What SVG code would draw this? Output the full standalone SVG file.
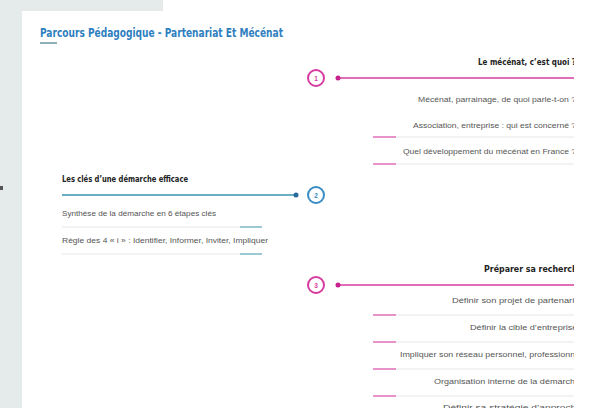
<svg xmlns="http://www.w3.org/2000/svg" width="605" height="408" viewBox="0 0 605 408">
<defs>
<clipPath id="clip"><rect x="22" y="0" width="552" height="408"/></clipPath>
<style>
.t{font-family:"DejaVu Sans Condensed","Liberation Sans",sans-serif;font-weight:bold;font-size:9px;fill:#222}
.i{font-family:"Liberation Sans",Arial,sans-serif;font-size:7px;fill:#555}
.n{font-family:"Liberation Sans",Arial,sans-serif;font-size:6.5px;font-weight:bold;text-anchor:middle}
.pk{stroke:#d63ca0;fill:none}
.bl{stroke:#3a8cc4;fill:none}
.gr{stroke:#e6e6e6;stroke-width:1}
.pks{stroke:#e070b8;stroke-width:1.5}
.bls{stroke:#7ab8c8;stroke-width:1.5}
</style>
</defs>
<rect width="605" height="408" fill="#ffffff"/>
<rect x="0" y="0" width="163" height="11" fill="#e5eaea"/>
<rect x="0" y="0" width="22" height="408" fill="#e5eaea"/>
<rect x="0" y="186" width="3" height="4" fill="#555"/>
<g id="title">
<text x="40" y="37" font-family="DejaVu Sans Condensed,Liberation Sans,sans-serif" font-weight="bold" font-size="11.5" fill="#2f7fc0" textLength="243" lengthAdjust="spacingAndGlyphs">Parcours Pédagogique - Partenariat Et Mécénat</text>
<rect x="40" y="42" width="17" height="2" fill="#8fb0bb"/>
</g>
<g clip-path="url(#clip)">
<g id="connectors">
<line x1="338" y1="78" x2="580" y2="78" stroke="#d63ca0" stroke-width="1.5"/>
<line x1="62" y1="195" x2="296" y2="195" stroke="#6aaec4" stroke-width="2"/>
<line x1="338" y1="285" x2="580" y2="285" stroke="#d63ca0" stroke-width="1.5"/>
</g>
<g id="node1">
<circle class="pk" cx="316" cy="78" r="8" stroke-width="2"/>
<text class="n" x="316" y="80.5" fill="#d63ca0">1</text>
<circle cx="338" cy="78" r="2.5" fill="#c8208e"/>
<text class="t" x="576" y="65" text-anchor="end" textLength="98" lengthAdjust="spacingAndGlyphs">Le mécénat, c’est quoi ?</text>
<text class="i" x="576" y="102" text-anchor="end" textLength="158" lengthAdjust="spacingAndGlyphs">Mécénat, parrainage, de quoi parle-t-on ?</text>
<text class="i" x="576" y="128" text-anchor="end" textLength="163" lengthAdjust="spacingAndGlyphs">Association, entreprise : qui est concerné ?</text>
<line class="gr" x1="396" y1="137" x2="580" y2="137"/>
<line class="pks" x1="373" y1="137" x2="396" y2="137"/>
<text class="i" x="576" y="154" text-anchor="end" textLength="173" lengthAdjust="spacingAndGlyphs">Quel développement du mécénat en France ?</text>
<line class="gr" x1="396" y1="164" x2="580" y2="164"/>
<line class="pks" x1="373" y1="164" x2="396" y2="164"/>
</g>
<g id="node2">
<circle class="bl" cx="316" cy="195" r="8" stroke-width="2"/>
<text class="n" x="316" y="197.5" fill="#3a8cc4">2</text>
<circle cx="296" cy="195" r="2.5" fill="#2a6a9a"/>
<text class="t" x="62" y="182" textLength="126" lengthAdjust="spacingAndGlyphs">Les clés d’une démarche efficace</text>
<text class="i" x="62" y="216" textLength="154" lengthAdjust="spacingAndGlyphs">Synthèse de la démarche en 6 étapes clés</text>
<line class="gr" x1="62" y1="227" x2="240" y2="227"/>
<line class="bls" x1="240" y1="227" x2="262" y2="227"/>
<text class="i" x="62" y="243" textLength="206" lengthAdjust="spacingAndGlyphs">Règle des 4 « i » : Identifier, Informer, Inviter, Impliquer</text>
<line class="gr" x1="62" y1="254" x2="240" y2="254"/>
<line class="bls" x1="240" y1="254" x2="262" y2="254"/>
</g>
<g id="node3">
<circle class="pk" cx="316" cy="285" r="8" stroke-width="2"/>
<text class="n" x="316" y="287.5" fill="#d63ca0">3</text>
<circle cx="338" cy="285" r="2.5" fill="#c8208e"/>
<text class="t" x="583" y="272" text-anchor="end" textLength="99" lengthAdjust="spacingAndGlyphs">Préparer sa recherche</text>
<text class="i" x="582" y="303" text-anchor="end" textLength="130" lengthAdjust="spacingAndGlyphs">Définir son projet de partenariat</text>
<line class="gr" x1="396" y1="315" x2="580" y2="315"/>
<line class="pks" x1="373" y1="315" x2="396" y2="315"/>
<text class="i" x="582" y="330" text-anchor="end" textLength="112" lengthAdjust="spacingAndGlyphs">Définir la cible d’entreprises</text>
<line class="gr" x1="396" y1="342" x2="580" y2="342"/>
<line class="pks" x1="373" y1="342" x2="396" y2="342"/>
<text class="i" x="582" y="357" text-anchor="end" textLength="182" lengthAdjust="spacingAndGlyphs">Impliquer son réseau personnel, professionnel</text>
<line class="gr" x1="396" y1="369" x2="580" y2="369"/>
<line class="pks" x1="373" y1="369" x2="396" y2="369"/>
<text class="i" x="580" y="384" text-anchor="end" textLength="146" lengthAdjust="spacingAndGlyphs">Organisation interne de la démarche</text>
<line class="gr" x1="396" y1="396" x2="580" y2="396"/>
<line class="pks" x1="373" y1="396" x2="396" y2="396"/>
<text class="i" x="582" y="410" text-anchor="end" textLength="139" lengthAdjust="spacingAndGlyphs">Définir sa stratégie d’approche</text>
</g>
</g>
</svg>
